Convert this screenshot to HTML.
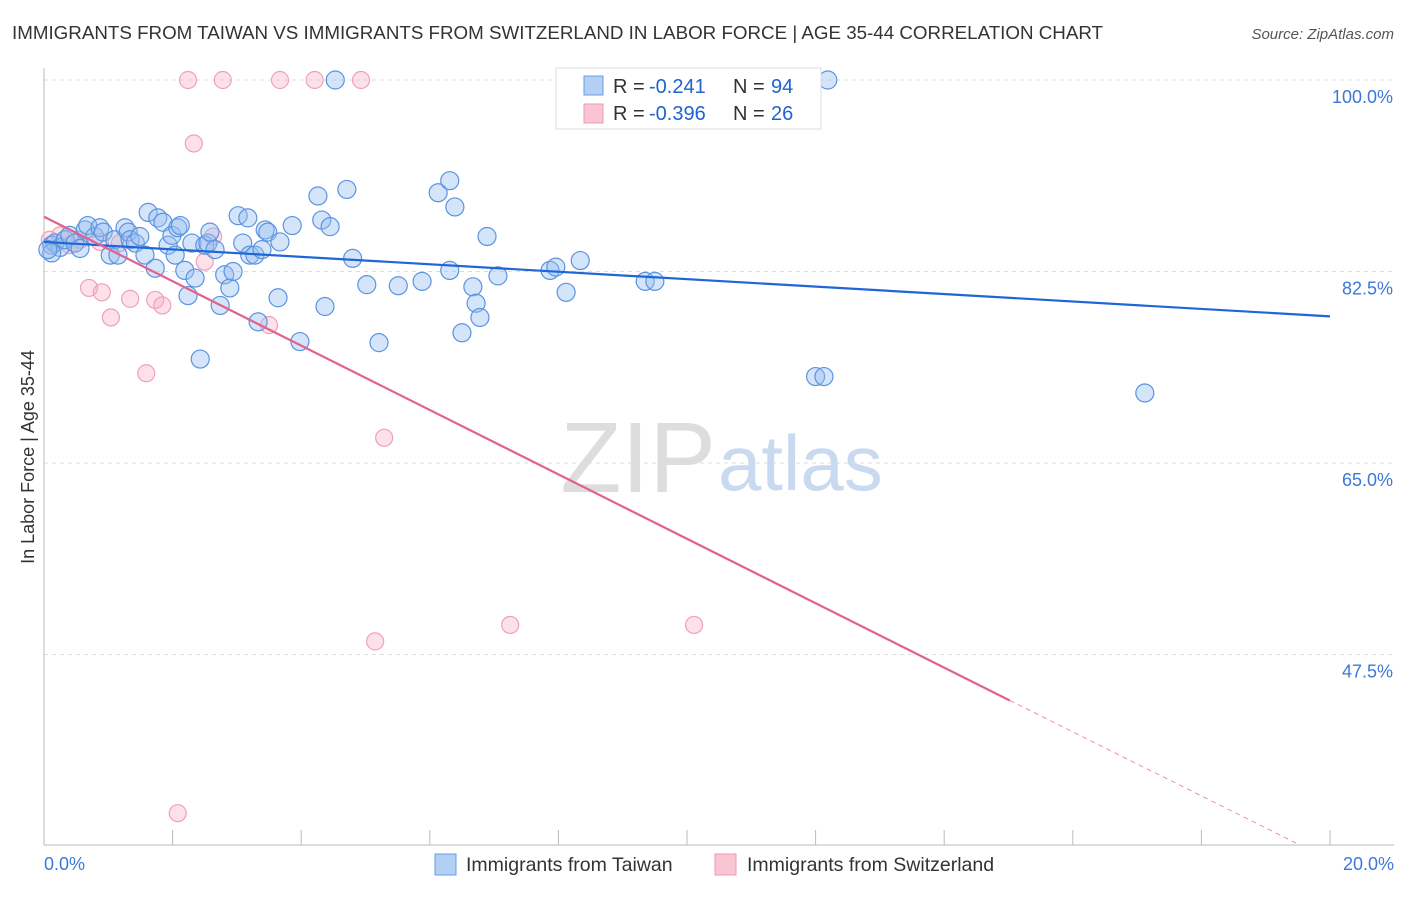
<!DOCTYPE html>
<html><head><meta charset="utf-8"><style>
body{margin:0;background:#fff;font-family:"Liberation Sans",sans-serif}
svg text{font-family:"Liberation Sans",sans-serif}
</style></head><body>
<svg id="c" width="1406" height="892">
<text x="12" y="39" font-size="18" fill="#333" textLength="1091" lengthAdjust="spacingAndGlyphs">IMMIGRANTS FROM TAIWAN VS IMMIGRANTS FROM SWITZERLAND IN LABOR FORCE | AGE 35-44 CORRELATION CHART</text>
<text x="1394" y="39" font-size="15" fill="#555" text-anchor="end" font-style="italic">Source: ZipAtlas.com</text>
<text x="716" y="492" font-size="100" fill="#ddd" text-anchor="end" font-family="Liberation Serif">ZIP</text>
<text x="718" y="490" font-size="78" fill="#c9daf0">atlas</text>
<text transform="translate(34,457) rotate(-90)" font-size="18" fill="#333" text-anchor="middle">In Labor Force | Age 35-44</text>
<g id="grid"></g><g id="marks"></g>
<g>
<rect x="556" y="68" width="265" height="61" fill="#fff" stroke="#ddd"/>
<rect x="584" y="76" width="19" height="19" fill="#b3cff3" stroke="#6a9ee6"/>
<rect x="584" y="104" width="19" height="19" fill="#f9c5d3" stroke="#ee9ab2"/>
<text x="613" y="93" font-size="20" fill="#333">R =</text>
<text x="649" y="93" font-size="20" fill="#1e63d0">-0.241</text>
<text x="733" y="93" font-size="20" fill="#333">N =</text>
<text x="771" y="93" font-size="20" fill="#1e63d0">94</text>
<text x="613" y="120" font-size="20" fill="#333">R =</text>
<text x="649" y="120" font-size="20" fill="#1e63d0">-0.396</text>
<text x="733" y="120" font-size="20" fill="#333">N =</text>
<text x="771" y="120" font-size="20" fill="#1e63d0">26</text>
</g>
<g>
<rect x="435" y="854" width="21" height="21" fill="#b3cff3" stroke="#6a9ee6"/>
<text x="466" y="871" font-size="19.5" fill="#333">Immigrants from Taiwan</text>
<rect x="715" y="854" width="21" height="21" fill="#f9c5d3" stroke="#ee9ab2"/>
<text x="747" y="871" font-size="19.5" fill="#333">Immigrants from Switzerland</text>
</g>
</svg>
<script>
const yTicks=[100,82.5,65,47.5];
const xTickLabels=["0.0%","20.0%"];
const blueX=[.12,.17,.25,.33,.40,.48,.56,.64,.68,.79,.87,.92,1.03,1.10,1.15,1.26,1.31,1.34,1.42,1.49,1.57,1.62,1.73,1.77,1.85,1.93,1.99,2.04,2.08,2.12,2.19,2.24,2.30,2.35,2.43,2.50,2.55,2.58,2.66,2.74,2.81,2.89,2.94,3.02,3.09,3.17,3.20,3.28,3.33,3.39,3.44,3.48,3.64,3.67,3.86,3.98,4.26,4.32,4.37,4.45,4.53,4.71,4.80,5.02,5.21,5.51,5.88,6.13,6.31,6.31,6.39,6.50,6.67,6.72,6.78,6.89,7.06,7.87,7.96,8.12,8.34,9.35,9.50,12.0,12.13,17.12,12.19,.12,.06];
const blueY=[84.9,85.1,84.7,85.4,85.8,85.1,84.6,86.3,86.7,85.7,86.5,86.1,84.0,85.4,84.0,86.5,86.1,85.4,85.1,85.7,84.0,87.9,82.8,87.4,87.0,84.9,85.8,84.0,86.5,86.7,82.6,80.3,85.1,81.9,74.5,84.9,85.1,86.1,84.5,79.4,82.2,81.0,82.5,87.6,85.1,87.4,84.0,84.0,77.9,84.5,86.3,86.1,80.1,85.2,86.7,76.1,89.4,87.2,79.3,86.6,100,90.0,83.7,81.3,76.0,81.2,81.6,89.7,90.8,82.6,88.4,76.9,81.1,79.6,78.3,85.7,82.1,82.6,82.9,80.6,83.5,81.6,81.6,72.9,72.9,71.4,100,84.2,84.5];
const pinkX=[.09,.25,.40,.56,.87,1.18,2.24,2.78,3.67,4.21,4.93,2.33,2.63,2.50,.70,.90,1.04,1.34,1.73,1.84,1.59,3.50,5.29,5.15,7.25,10.11,2.08];
const pinkY=[85.4,85.8,84.9,85.4,85.2,85.1,100,100,100,100,100,94.2,85.7,83.4,81.0,80.6,78.3,80.0,79.9,79.4,73.2,77.6,67.3,48.7,50.2,50.2,33.0];
const blueTrend=[[0,85.2],[20,78.4]];
const pinkTrend=[[0,87.5],[15.02,43.3]];
const pinkDash=[[15.02,43.3],[19.53,30.1]];
const X=v=>44+v*64.3, Y=v=>80+(100-v)*10.943;
const NS="http://www.w3.org/2000/svg";
function mk(t,a,p){const e=document.createElementNS(NS,t);for(const k in a)e.setAttribute(k,a[k]);p.appendChild(e);return e;}
const g=document.getElementById('grid'), m=document.getElementById('marks');
yTicks.forEach(t=>{
 const l=mk('line',{x1:44,x2:1394,y1:Y(t),y2:Y(t),stroke:'#ddd','stroke-dasharray':'4,4'},g);
 
 
 const tx=mk('text',{x:1393,y:Y(t)+23,'font-size':18,fill:'#3b78d8','text-anchor':'end'},g);
 tx.textContent=t.toFixed(1)+'%';
 
 
});
mk('line',{x1:44,x2:44,y1:68,y2:845,stroke:'#bbb'},g);
mk('line',{x1:44,x2:1394,y1:845,y2:845,stroke:'#bbb'},g);
for(let i=0;i<=10;i++){const tk=mk('line',{x1:X(i*2),x2:X(i*2),y1:830,y2:845,stroke:'#bbb'},g);
 
 }
[[0,44,'start'],[1,1394,'end']].forEach(([i,x,a])=>{const t=mk('text',{x:x,y:870,'font-size':18,fill:'#3b78d8','text-anchor':a},g);t.textContent=xTickLabels[i];
 
 });
pinkX.forEach((v,i)=>{const c=mk('circle',{cx:X(v),cy:Y(pinkY[i]),r:8.5,fill:'rgba(246,170,192,0.35)',stroke:'#f0a0b8','stroke-width':1.2},m);
 
 });
blueX.forEach((v,i)=>{const c=mk('circle',{cx:X(v),cy:Y(blueY[i]),r:9,fill:'rgba(150,190,240,0.4)',stroke:'#5b93e0','stroke-width':1.2},m);
 
 });
const bl=mk('line',{x1:X(blueTrend[0][0]),y1:Y(blueTrend[0][1]),x2:X(blueTrend[1][0]),y2:Y(blueTrend[1][1]),stroke:'#1f66d6','stroke-width':2.2},m);


const pl=mk('line',{x1:X(pinkTrend[0][0]),y1:Y(pinkTrend[0][1]),x2:X(pinkTrend[1][0]),y2:Y(pinkTrend[1][1]),stroke:'#e2628e','stroke-width':2.2},m);


const pd=mk('line',{x1:X(pinkDash[0][0]),y1:Y(pinkDash[0][1]),x2:X(pinkDash[1][0]),y2:Y(pinkDash[1][1]),stroke:'#e893ad','stroke-width':1,'stroke-dasharray':'5,4'},m);


</script>
</body></html>
